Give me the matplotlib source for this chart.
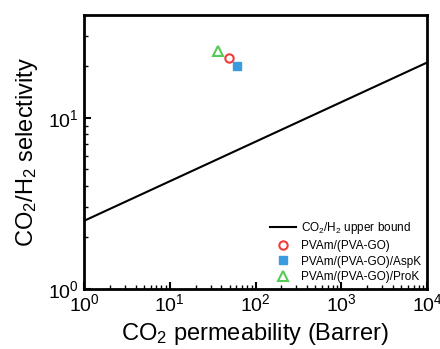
import matplotlib
matplotlib.use("Agg")
import matplotlib.pyplot as plt
import numpy as np

plt.rcParams['font.family'] = ['Liberation Sans', 'DejaVu Sans']
plt.rcParams['mathtext.fontset'] = 'custom'
plt.rcParams['mathtext.rm'] = 'Liberation Sans'
plt.rcParams['mathtext.it'] = 'Liberation Sans:italic'
plt.rcParams['mathtext.bf'] = 'Liberation Sans:bold'

bound_x = [1, 1e4]
bound_y = [2.5, 21.0]

pva_go_x = [48.7]
pva_go_y = [22.3]
aspk_x = [61.3]
aspk_y = [19.95]
prok_x = [36.5]
prok_y = [24.4]

fig = plt.figure(figsize=(4.4, 3.49), dpi=100)
ax = fig.add_axes([84/440, 1-289/349, (427-84)/440, (289-15)/349])

ax.plot(bound_x, bound_y, color='black', lw=1.5, label='CO$_2$/H$_2$ upper bound')
ax.plot(pva_go_x, pva_go_y, 'o', ms=6, mfc='none', mec='#f03c3c', mew=1.5, ls='none', label='PVAm/(PVA-GO)')
ax.plot(aspk_x, aspk_y, 's', ms=6, color='#3b9be0', ls='none', label='PVAm/(PVA-GO)/AspK')
ax.plot(prok_x, prok_y, '^', ms=7, mfc='none', mec='#55cc55', mew=1.5, ls='none', label='PVAm/(PVA-GO)/ProK')

ax.set_xscale('log')
ax.set_yscale('log')
ax.set_xlim(1, 1e4)
ax.set_ylim(1, 10**1.6)

for s in ax.spines.values():
    s.set_linewidth(2)
ax.tick_params(which='both', direction='in', top=False, right=False, labelsize=14)
ax.tick_params(which='major', length=5, width=1.5)
ax.tick_params(which='minor', length=3, width=1)
ax.tick_params(axis='x', pad=3)

ax.set_xlabel('CO$_2$ permeability (Barrer)', fontsize=17, labelpad=4)
ax.set_ylabel('CO$_2$/H$_2$ selectivity', fontsize=17, labelpad=6)

leg = ax.legend(loc='lower right', frameon=False, fontsize=8.5, handlelength=2.2,
                handletextpad=0.4, labelspacing=0.3, borderaxespad=0.1)

fig.savefig('out.png', dpi=100)
